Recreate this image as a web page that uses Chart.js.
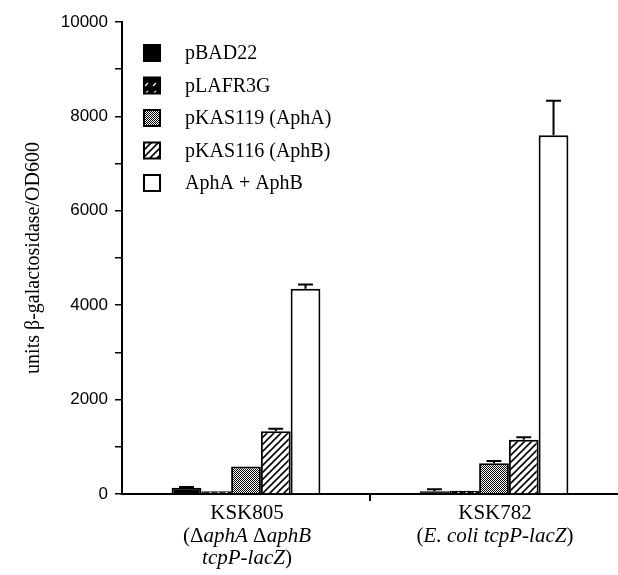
<!DOCTYPE html>
<html>
<head>
<meta charset="utf-8">
<script src="https://cdn.jsdelivr.net/npm/chart.js@4"></script>
<style>
  body { margin: 0; background: #fff; }
  #wrap { width: 618px; height: 575px; }
</style>
</head>
<body>
<div id="wrap"><canvas id="lacChart" width="618" height="575"></canvas></div>
<script>
// 데이터
const strains = ["KSK805", "KSK782"];
// *...* 는 이탤릭
const strainNotes = [
  ["(Δ*aphA* Δ*aphB*", "*tcpP-lacZ*)"],
  ["(*E. coli tcpP-lacZ*)"],
];
const plasmids = ["pBAD22", "pLAFR3G", "pKAS119 (AphA)", "pKAS116 (AphB)", "AphA + AphB"];
const pBAD22 = [130, 60];
const pLAFR3G = [60, 70];
const pKAS119 = [580, 650];
const pKAS116 = [1330, 1150];
const aphAB = [4350, 7600];
const errBAD22 = [20, 40];
const errLAFR3G = [0, 0];
const errKAS119 = [0, 50];
const errKAS116 = [50, 50];
const errAB = [90, 730];
const yTicks = [0, 2000, 4000, 6000, 8000, 10000];

const serif = "'Liberation Serif', 'DejaVu Serif', serif";
const sans = "'Liberation Sans', Arial, sans-serif";

// 패턴 만들기
function makePattern(size, draw) {
  const c = document.createElement("canvas");
  c.width = size;
  c.height = size;
  const g = c.getContext("2d");
  draw(g, size);
  return g.createPattern(c, "repeat");
}

const ctx = document.getElementById("lacChart").getContext("2d");

const darkDash = makePattern(8, (g, s) => {
  g.fillStyle = "#000";
  g.fillRect(0, 0, s, s);
  g.strokeStyle = "#fff";
  g.lineWidth = 1.3;
  g.beginPath();
  g.moveTo(1, s - 2);
  g.lineTo(4, s - 5);
  g.stroke();
});

const stipple = makePattern(2, (g) => {
  g.fillStyle = "#fff";
  g.fillRect(0, 0, 2, 2);
  g.fillStyle = "#000";
  g.fillRect(0, 0, 1, 1);
  g.fillRect(1, 1, 1, 1);
});

const hatch = makePattern(7, (g, s) => {
  g.fillStyle = "#fff";
  g.fillRect(0, 0, s, s);
  g.strokeStyle = "#000";
  g.lineWidth = 1.6;
  g.beginPath();
  g.moveTo(-1, s + 1);
  g.lineTo(s + 1, -1);
  g.moveTo(-1, 1);
  g.lineTo(1, -1);
  g.moveTo(s - 1, s + 1);
  g.lineTo(s + 1, s - 1);
  g.stroke();
});

const series = [
  { label: plasmids[0], data: pBAD22, err: errBAD22, fill: "#000" },
  { label: plasmids[1], data: pLAFR3G, err: errLAFR3G, fill: darkDash },
  { label: plasmids[2], data: pKAS119, err: errKAS119, fill: stipple },
  { label: plasmids[3], data: pKAS116, err: errKAS116, fill: hatch },
  { label: plasmids[4], data: aphAB, err: errAB, fill: "#fff" },
];

// 에러바 (위쪽만)
const errorBars = {
  id: "errorBars",
  afterDatasetsDraw(chart) {
    const g = chart.ctx;
    const y = chart.scales.y;
    g.save();
    g.strokeStyle = "#000";
    g.lineWidth = 2;
    chart.data.datasets.forEach((ds, i) => {
      chart.getDatasetMeta(i).data.forEach((bar, j) => {
        const e = ds.err[j];
        if (!e) return;
        const top = y.getPixelForValue(ds.data[j] + e);
        const half = bar.width / 4;
        g.beginPath();
        g.moveTo(bar.x, bar.y);
        g.lineTo(bar.x, top);
        g.moveTo(bar.x - half, top);
        g.lineTo(bar.x + half, top);
        g.stroke();
      });
    });
    g.restore();
  },
};

// 범례 (차트 안쪽 왼쪽 위)
const boxLegend = {
  id: "boxLegend",
  afterDraw(chart) {
    const g = chart.ctx;
    g.save();
    g.font = "20px " + serif;
    g.textBaseline = "middle";
    chart.data.datasets.forEach((ds, i) => {
      const cy = 53 + i * 32.5;
      g.fillStyle = ds.backgroundColor;
      g.fillRect(144, cy - 8, 16, 16);
      g.strokeStyle = "#000";
      g.lineWidth = 2;
      g.strokeRect(144, cy - 8, 16, 16);
      g.fillStyle = "#000";
      g.fillText(ds.label, 185, cy + 1);
    });
    g.restore();
  },
};

// x축 라벨 (이탤릭 섞어서)
function drawMixed(g, text, cx, cy) {
  const parts = text.split("*");
  const fonts = parts.map((p, k) => (k % 2 ? "italic " : "") + "21px " + serif);
  let w = 0;
  parts.forEach((p, k) => {
    g.font = fonts[k];
    w += g.measureText(p).width;
  });
  let x = cx - w / 2;
  parts.forEach((p, k) => {
    g.font = fonts[k];
    g.fillText(p, x, cy);
    x += g.measureText(p).width;
  });
}

const strainLabels = {
  id: "strainLabels",
  afterDraw(chart) {
    const g = chart.ctx;
    const x = chart.scales.x;
    g.save();
    g.fillStyle = "#000";
    g.textBaseline = "middle";
    g.textAlign = "left";
    strains.forEach((name, i) => {
      const cx = x.getPixelForValue(i);
      drawMixed(g, name, cx + 1, 513);
      strainNotes[i].forEach((line, k) => {
        drawMixed(g, line, cx + 1, 536 + k * 22);
      });
    });
    g.restore();
  },
};

new Chart(ctx, {
  type: "bar",
  data: {
    labels: strains,
    datasets: series.map((s) => ({
      label: s.label,
      data: s.data,
      err: s.err,
      backgroundColor: s.fill,
      borderColor: "#000",
      borderWidth: 2,
      categoryPercentage: 0.6,
      barPercentage: 1,
    })),
  },
  options: {
    responsive: false,
    animation: false,
    devicePixelRatio: 1,
    layout: {
      padding: { left: 22, top: 22, right: 0, bottom: 0 },
    },
    plugins: {
      legend: { display: false },
      tooltip: { enabled: false },
      title: { display: false },
    },
    scales: {
      x: {
        afterFit: (scale) => {
          scale.height = 81;
        },
        border: { display: true, color: "#000", width: 2 },
        grid: {
          offset: true,
          drawOnChartArea: false,
          tickLength: 7,
          lineWidth: 2,
          color: (c) => (c.index === 1 ? "#000" : "rgba(0,0,0,0)"),
        },
        ticks: { display: false },
      },
      y: {
        min: 0,
        max: 10000,
        afterFit: (scale) => {
          scale.width = 100;
        },
        border: { display: true, color: "#000", width: 2 },
        grid: {
          drawOnChartArea: false,
          tickLength: 7,
          lineWidth: 1.5,
          color: "#000",
        },
        ticks: {
          stepSize: 1000,
          padding: 7,
          color: "#000",
          font: { family: sans, size: 17 },
          callback: (v) => (yTicks.includes(v) ? String(v) : ""),
        },
        title: {
          display: true,
          text: "units β-galactosidase/OD600",
          color: "#000",
          font: { family: serif, size: 20 },
          padding: { top: 0, bottom: 0 },
        },
      },
    },
  },
  plugins: [errorBars, boxLegend, strainLabels],
});
</script>
</body>
</html>
